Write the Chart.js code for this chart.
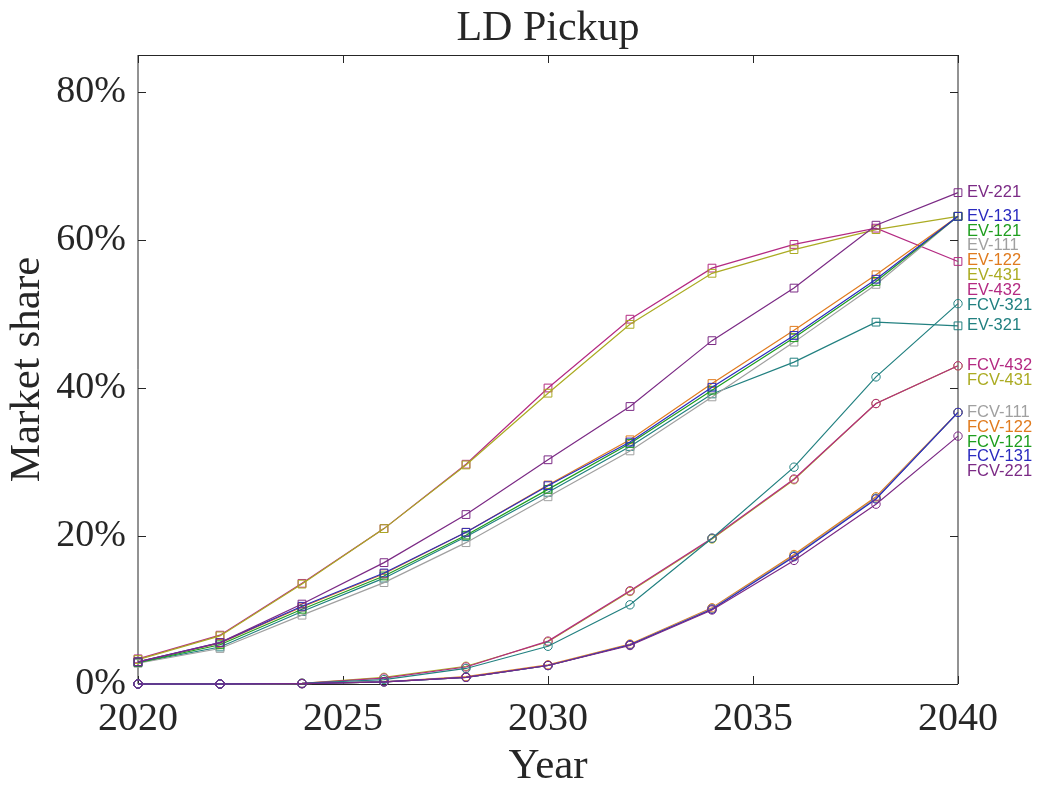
<!DOCTYPE html>
<html>
<head>
<meta charset="utf-8">
<title>LD Pickup</title>
<script src="https://cdn.jsdelivr.net/npm/chart.js@4/dist/chart.umd.min.js"></script>
<style>
  html, body { margin: 0; padding: 0; background: #fff; }
  #wrap { width: 1042px; height: 787px; }
</style>
</head>
<body>
<div id="wrap"><canvas id="c" width="1042" height="787"></canvas></div>
<script>
// Model years (x) and axis tick values
const years  = [2020, 2022, 2024, 2026, 2028, 2030, 2032, 2034, 2036, 2038, 2040];
const xTicks = [2020, 2025, 2030, 2035, 2040];
const yTicks = [0, 20, 40, 60, 80];

// Market share (%) of battery-electric pickups by scenario
const ev221 = [3.0, 5.6, 10.8, 16.4, 22.9, 30.3, 37.5, 46.4, 53.5, 62.0, 66.4];
const ev131 = [3.0, 5.6, 10.5, 15.0, 20.5, 26.8, 32.7, 40.1, 47.1, 54.7, 63.2];
const ev121 = [2.9, 5.3, 10.1, 14.6, 20.1, 26.3, 32.5, 39.7, 46.8, 54.4, 63.2];
const ev111 = [2.8, 4.8,  9.3, 13.7, 19.1, 25.3, 31.5, 38.8, 46.2, 54.0, 63.2];
const ev122 = [3.0, 5.5, 10.4, 14.9, 20.5, 26.9, 33.0, 40.6, 47.8, 55.3, 63.2];
const ev431 = [3.3, 6.5, 13.5, 21.0, 29.6, 39.3, 48.6, 55.5, 58.7, 61.4, 63.2];
const ev432 = [3.4, 6.6, 13.6, 21.0, 29.7, 40.0, 49.3, 56.2, 59.4, 61.6, 57.1];
const ev321 = [2.9, 5.0,  9.8, 14.3, 19.9, 25.9, 32.1, 39.2, 43.5, 48.9, 48.4];

// Market share (%) of fuel-cell pickups by scenario
const fcv321 = [0, 0, 0.1,  0.6, 2.1, 5.1, 10.7, 19.7, 29.3, 41.5, 51.4];
const fcv432 = [0, 0, 0.1,  0.8, 2.3, 5.8, 12.6, 19.7, 27.7, 37.9, 43.0];
const fcv431 = [0, 0, 0.1,  0.9, 2.4, 5.7, 12.5, 19.6, 27.6, 37.9, 43.0];
const fcv111 = [0, 0, 0.05, 0.3, 0.9, 2.5,  5.3, 10.2, 17.3, 25.1, 36.7];
const fcv122 = [0, 0, 0.05, 0.3, 1.0, 2.6,  5.4, 10.3, 17.5, 25.3, 36.7];
const fcv121 = [0, 0, 0.05, 0.3, 0.9, 2.5,  5.3, 10.2, 17.3, 25.1, 36.7];
const fcv131 = [0, 0, 0.05, 0.3, 0.9, 2.5,  5.3, 10.1, 17.2, 25.0, 36.7];
const fcv221 = [0, 0, 0.05, 0.3, 0.9, 2.5,  5.2, 10.0, 16.7, 24.3, 33.5];

// Scenario colours
const palette = {
  purple:  '#7B2A85',
  blue:    '#2A2ABF',
  green:   '#1E9E1E',
  gray:    '#A0A0A0',
  orange:  '#E07B1E',
  olive:   '#ABAB22',
  magenta: '#B42A82',
  teal:    '#228080'
};

// layer: lower numbers are painted on top
const series = [
  { name: 'EV-221',  values: ev221,  color: palette.purple,  kind: 'ev',  layer: 0 },
  { name: 'EV-131',  values: ev131,  color: palette.blue,    kind: 'ev',  layer: 0 },
  { name: 'EV-121',  values: ev121,  color: palette.green,   kind: 'ev',  layer: 0 },
  { name: 'EV-111',  values: ev111,  color: palette.gray,    kind: 'ev',  layer: 0 },
  { name: 'EV-122',  values: ev122,  color: palette.orange,  kind: 'ev',  layer: 0 },
  { name: 'EV-431',  values: ev431,  color: palette.olive,   kind: 'ev',  layer: 0 },
  { name: 'EV-432',  values: ev432,  color: palette.magenta, kind: 'ev',  layer: 0 },
  { name: 'FCV-321', values: fcv321, color: palette.teal,    kind: 'fcv', layer: 0 },
  { name: 'EV-321',  values: ev321,  color: palette.teal,    kind: 'ev',  layer: 0 },
  { name: 'FCV-432', values: fcv432, color: palette.magenta, kind: 'fcv', layer: 0 },
  { name: 'FCV-431', values: fcv431, color: palette.olive,   kind: 'fcv', layer: 0 },
  { name: 'FCV-111', values: fcv111, color: palette.gray,    kind: 'fcv', layer: 0 },
  { name: 'FCV-122', values: fcv122, color: palette.orange,  kind: 'fcv', layer: 0 },
  { name: 'FCV-121', values: fcv121, color: palette.green,   kind: 'fcv', layer: 0 },
  { name: 'FCV-131', values: fcv131, color: palette.blue,    kind: 'fcv', layer: -1 },
  { name: 'FCV-221', values: fcv221, color: palette.purple,  kind: 'fcv', layer: -2 }
];

const SERIF = '"Liberation Serif", "Times New Roman", serif';
const SANS  = '"Liberation Sans", Arial, sans-serif';
const INK   = '#262626';

const datasets = series.map(s => ({
  label: s.name,
  order: s.layer,
  data: years.map((yr, i) => ({ x: yr, y: s.values[i] })),
  borderColor: s.color,
  borderWidth: 1.2,
  pointStyle: s.kind === 'ev' ? 'rect' : 'circle',
  pointRadius: s.kind === 'ev' ? 5.5 : 4.2,
  pointBorderWidth: 1,
  pointBorderColor: s.color,
  pointBackgroundColor: 'rgba(0,0,0,0)',
  pointHoverRadius: 0,
  tension: 0,
  clip: false
}));

// Boxed axes with inward-pointing tick marks on all four sides
const framePlugin = {
  id: 'frame',
  beforeDatasetsDraw(chart) {
    const { ctx, chartArea: a, scales: { x, y } } = chart;
    const len = 8;
    ctx.save();
    ctx.strokeStyle = INK;
    ctx.lineWidth = 1;
    ctx.beginPath();
    ctx.moveTo(a.left, a.top + 0.5);
    ctx.lineTo(a.right, a.top + 0.5);
    ctx.moveTo(a.left, a.bottom + 0.5);
    ctx.lineTo(a.right, a.bottom + 0.5);
    ctx.moveTo(a.left, a.top);
    ctx.lineTo(a.left, a.bottom);
    ctx.moveTo(a.right, a.top);
    ctx.lineTo(a.right, a.bottom);
    yTicks.forEach(v => {
      const py = Math.round(y.getPixelForValue(v)) + 0.5;
      ctx.moveTo(a.left, py);  ctx.lineTo(a.left + len, py);
      ctx.moveTo(a.right, py); ctx.lineTo(a.right - len, py);
    });
    xTicks.forEach(v => {
      const px = Math.round(x.getPixelForValue(v)) + 0.5;
      ctx.moveTo(px, a.bottom); ctx.lineTo(px, a.bottom - len);
      ctx.moveTo(px, a.top);    ctx.lineTo(px, a.top + len);
    });
    ctx.stroke();
    ctx.restore();
  }
};

// Series names written just past the right edge, next to each line's 2040 value
const endLabelPlugin = {
  id: 'endLabels',
  afterDatasetsDraw(chart) {
    const { ctx, chartArea: a, scales: { y } } = chart;
    const gap = 14.8;
    const items = series
      .map((s, i) => ({ s, i, v: s.values[s.values.length - 1] }))
      .sort((p, q) => (q.v - p.v) || (p.i - q.i));
    let prev = -Infinity;
    ctx.save();
    ctx.font = '16.5px ' + SANS;
    ctx.textAlign = 'left';
    ctx.textBaseline = 'middle';
    items.forEach(it => {
      const py = Math.max(y.getPixelForValue(it.v), prev + gap);
      prev = py;
      ctx.fillStyle = it.s.color;
      ctx.fillText(it.s.name, a.right + 9, py);
    });
    ctx.restore();
  }
};

new Chart(document.getElementById('c'), {
  type: 'line',
  data: { datasets },
  options: {
    responsive: false,
    animation: false,
    events: [],
    layout: { padding: { left: 0, right: 84, top: 0, bottom: 0 } },
    plugins: {
      legend: { display: false },
      tooltip: { enabled: false },
      title: {
        display: true,
        fullSize: false,
        text: 'LD Pickup',
        color: INK,
        font: { family: SERIF, size: 42, weight: 'normal', lineHeight: 1.2 },
        padding: { top: 4, bottom: 0.6 }
      }
    },
    scales: {
      x: {
        type: 'linear',
        min: 2020,
        max: 2040,
        afterBuildTicks: s => { s.ticks = xTicks.map(v => ({ value: v })); },
        afterFit: s => { s.height = 103; },
        grid: { display: false, drawTicks: false },
        border: { display: false },
        ticks: {
          color: INK,
          padding: 11,
          maxRotation: 0,
          font: { family: SERIF, size: 40 },
          callback: v => String(v)
        },
        title: {
          display: true,
          text: 'Year',
          color: INK,
          font: { family: SERIF, size: 43 },
          padding: { top: 0, bottom: -6 }
        }
      },
      y: {
        min: 0,
        max: 85,
        afterBuildTicks: s => { s.ticks = yTicks.map(v => ({ value: v })); },
        afterFit: s => { s.width = 138; },
        grid: { display: false, drawTicks: false },
        border: { display: false },
        ticks: {
          color: INK,
          padding: 12,
          font: { family: SERIF, size: 38 },
          callback: v => v + '%'
        },
        title: {
          display: true,
          text: 'Market share',
          color: INK,
          font: { family: SERIF, size: 43 },
          padding: { top: 2, bottom: 0 }
        }
      }
    }
  },
  plugins: [framePlugin, endLabelPlugin]
});
</script>
</body>
</html>
